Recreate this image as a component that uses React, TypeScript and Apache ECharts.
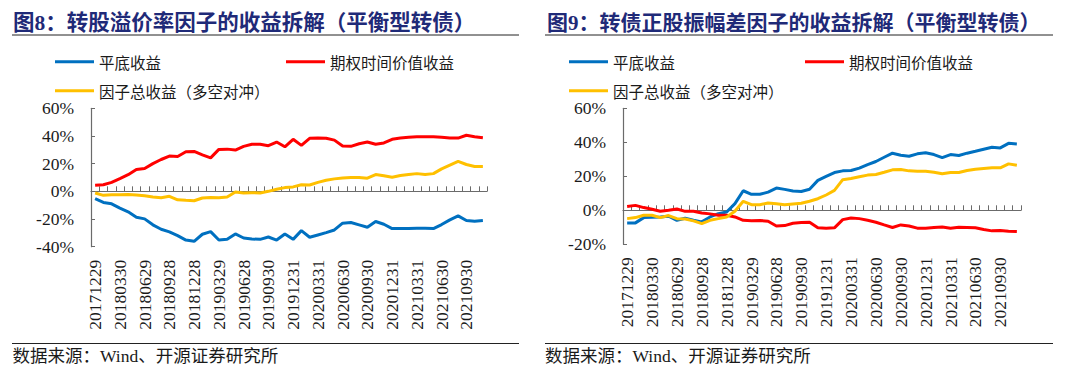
import React, { useEffect, useRef } from "react";
import * as echarts from "echarts";

const dates = [
  "20171229",
  "20180131", "20180228", "20180330", "20180427", "20180531", "20180629",
  "20180731", "20180831", "20180928", "20181031", "20181130", "20181228",
  "20190131", "20190228", "20190329", "20190430", "20190531", "20190628",
  "20190731", "20190830", "20190930", "20191031", "20191129", "20191231",
  "20200123", "20200228", "20200331", "20200430", "20200529", "20200630",
  "20200731", "20200831", "20200930", "20201030", "20201130", "20201231",
  "20210129", "20210226", "20210331", "20210430", "20210531", "20210630",
  "20210730", "20210831", "20210930", "20211029", "20211130",
];

const seriesNames = ["平底收益", "期权时间价值收益", "因子总收益（多空对冲）"];
const seriesColors = ["#0070C0", "#FF0000", "#FFC000"];

// Chart 1: 转股溢价率因子
const c1Floor = [
  -5.3, -8, -9, -12.1, -14.8, -18.7, -19.9, -24.2, -27.4, -29.3, -32, -35.2,
  -36.1, -31, -29.1, -35.2, -34.7, -30.8, -33.7, -34.4, -34.7, -33, -35.2, -30.8,
  -34.7, -28.4, -33.2, -31.5, -29.8, -27.9, -23, -22.5, -24.2, -25.9, -21.8, -23.8,
  -26.9, -26.9, -26.9, -26.7, -26.7, -26.9, -24, -20.6, -17.7, -21.1, -21.6, -21.1,
];
const c1Option = [
  4.4, 4.8, 6.5, 9.2, 12, 15.8, 16.5, 20, 23, 25.5, 25.2, 28.6,
  28.8, 26.4, 24.2, 30.3, 30.5, 29.8, 32.5, 34, 34, 33, 35.6, 32.2,
  37.6, 33.2, 38.3, 38.5, 38.3, 37, 32.7, 32.5, 34.4, 35.6, 34, 35,
  37.6, 38.5, 39, 39.5, 39.5, 39.5, 39, 38.5, 38.5, 40.5, 39.5, 38.8,
];
const c1Total = [
  -1.2, -2.9, -2.4, -2.4, -2.2, -2.7, -3.2, -4.1, -4.6, -3.6, -6.1, -6.5,
  -6.8, -4.8, -4.4, -4.6, -4.1, -0.5, -1.2, -1, -1.2, 0, 1.5, 2.7,
  3.2, 4.8, 4.6, 6.5, 8, 9, 9.7, 10, 10, 9.5, 12.1, 11.2,
  10.2, 11.4, 12.1, 12.8, 12.1, 12.8, 16.2, 18.9, 21.6, 19.4, 17.9, 17.9,
];

// Chart 2: 转债正股振幅差因子
const c2Floor = [
  -7.4, -7.4, -4.3, -4.1, -3.9, -3.5, -5.9, -4.7, -5.9, -6.8, -3.9, -2,
  -1, 3.9, 11.5, 9.4, 9.4, 10.7, 13.1, 12.3, 11.3, 11.1, 12.4, 17.6,
  19.9, 22.2, 23.2, 23.4, 24.8, 26.9, 28.7, 31.2, 33.6, 32.4, 31.8, 33.2,
  33.8, 32.8, 31, 32.8, 32.2, 33.6, 34.7, 35.9, 37.1, 36.7, 39.4, 39,
];
const c2Option = [
  2.3, 2.9, 1.6, 0.6, -0.6, 0, 0.8, -0.6, -0.6, -1.6, -2.1, -2.9,
  -2.9, -3.9, -5.9, -6.2, -6, -6.4, -9.2, -9, -7.6, -7.2, -7, -10.3,
  -10.5, -10.3, -5.5, -4.5, -4.9, -5.9, -7, -8.6, -10.1, -8.6, -9.2, -10.5,
  -10.5, -10.1, -9.8, -10.5, -10, -10.1, -10.3, -11.3, -12.1, -11.9, -12.3, -12.5,
];
const c2Total = [
  -4.9, -4.3, -2.9, -2.9, -4.3, -3.1, -4.9, -5.1, -6.2, -7.8, -5.9, -4.9,
  -3.9, -0.6, 5.3, 3.3, 3.3, 4.3, 3.9, 3.3, 3.7, 4.1, 5.3, 6.8,
  9, 11.7, 18, 18.7, 19.7, 20.7, 21.1, 22.4, 23.8, 24, 23.2, 23,
  23, 22.4, 21.5, 22.2, 22.2, 23.4, 24.2, 24.6, 25, 25, 27.3, 26.5,
];

const c1Title = "图8：转股溢价率因子的收益拆解（平衡型转债）";
const c2Title = "图9：转债正股振幅差因子的收益拆解（平衡型转债）";
const sourceText = "数据来源：Wind、开源证券研究所";

const c1YRange = [-40, 60];
const c2YRange = [-20, 60];
const yInterval = 20;

const SERIF = "'Liberation Serif', 'Times New Roman', serif";
const CJK = "'Liberation Serif', 'Noto Sans CJK SC', sans-serif";
const AXIS_COLOR = "#6b6b6b";
const TEXT_COLOR = "#1a1a1a";
const TITLE_COLOR = "#1F2A78";

export default function App() {
  const ref = useRef<HTMLDivElement>(null);

  useEffect(() => {
    if (!ref.current) return;
    const chart = echarts.init(ref.current, undefined, { renderer: "svg" });

    const grids = [
      { left: 91, top: 108.3, width: 396, height: 138.4, containLabel: false, outerBoundsMode: "none" },
      { left: 623, top: 108.3, width: 398, height: 136, containLabel: false, outerBoundsMode: "none" },
    ];

    const labelAxis = (gridIndex: number) => ({
      type: "category",
      gridIndex,
      data: dates,
      boundaryGap: true,
      position: "bottom",
      axisLine: { show: false, onZero: false },
      axisTick: { show: false },
      splitLine: { show: false },
      axisLabel: {
        interval: 2,
        rotate: 90,
        fontSize: 17.5,
        fontFamily: SERIF,
        color: TEXT_COLOR,
        margin: 13,
      },
    });
    const zeroAxis = (gridIndex: number) => ({
      type: "category",
      gridIndex,
      data: dates,
      boundaryGap: true,
      position: "bottom",
      axisLine: { show: true, onZero: true, lineStyle: { color: AXIS_COLOR, width: 1.2 } },
      axisTick: { show: true, inside: true, length: 5, interval: 0, lineStyle: { color: AXIS_COLOR, width: 1 } },
      axisLabel: { show: false },
      splitLine: { show: false },
    });
    const yAxis = (gridIndex: number, range: number[]) => ({
      type: "value",
      gridIndex,
      min: range[0],
      max: range[1],
      interval: yInterval,
      axisLine: { show: true, lineStyle: { color: AXIS_COLOR, width: 1.2 } },
      axisTick: { show: true, inside: true, length: 4, lineStyle: { color: AXIS_COLOR } },
      splitLine: { show: false },
      axisLabel: {
        formatter: "{value}%",
        fontSize: 17.5,
        fontFamily: SERIF,
        color: TEXT_COLOR,
        margin: 17,
      },
    });

    const mkSeries = (xi: number, yi: number, values: number[][]) =>
      values.map((v, k) => ({
        type: "line",
        name: seriesNames[k],
        xAxisIndex: xi,
        yAxisIndex: yi,
        data: v,
        symbol: "none",
        color: seriesColors[k],
        itemStyle: { color: seriesColors[k] },
        lineStyle: { color: seriesColors[k], width: 3 },
      }));

    const mkLegend = (name: string, left: number, top: number) => ({
      data: [name],
      left,
      top,
      orient: "horizontal",
      padding: 0,
      icon: "rect",
      itemWidth: 39,
      itemHeight: 3,
      selectedMode: false,
      textStyle: { fontSize: 15.5, fontFamily: "'Noto Sans CJK SC', sans-serif", color: TEXT_COLOR },
    });

    const legendY1 = 54;
    const legendY2 = 83;

    const mkText = (text: string, x: number, y: number, size: number, color: string, weight: string, family: string) => ({
      type: "text",
      x,
      y,
      style: { text, fontSize: size, fill: color, fontWeight: weight, fontFamily: family, textVerticalAlign: "middle", textAlign: "left" },
      silent: true,
    });
    const mkLine = (x1: number, x2: number, y: number) => ({
      type: "line",
      shape: { x1, y1: y, x2, y2: y },
      style: { stroke: "#222", lineWidth: 1 },
      silent: true,
    });

    chart.setOption({
      animation: false,
      backgroundColor: "#ffffff",
      grid: grids,
      xAxis: [labelAxis(0), zeroAxis(0), labelAxis(1), zeroAxis(1)],
      yAxis: [yAxis(0, c1YRange), yAxis(1, c2YRange)],
      legend: [
        mkLegend(seriesNames[0], 55, legendY1),
        mkLegend(seriesNames[1], 286, legendY1),
        mkLegend(seriesNames[2], 55, legendY2),
        mkLegend(seriesNames[0], 569, legendY1),
        mkLegend(seriesNames[1], 805, legendY1),
        mkLegend(seriesNames[2], 569, legendY2),
      ],
      series: [
        ...mkSeries(0, 0, [c1Floor, c1Option, c1Total]),
        ...mkSeries(2, 1, [c2Floor, c2Option, c2Total]),
      ],
      graphic: [
        mkText(c1Title, 13, 22.5, 21.5, TITLE_COLOR, "bold", CJK),
        mkText(c2Title, 547, 22.5, 21, TITLE_COLOR, "bold", CJK),
        mkLine(12, 519, 35),
        mkLine(545, 1053, 35),
        mkLine(12, 519, 343.5),
        mkLine(545, 1053, 343.5),
        mkText(sourceText, 12.5, 355.5, 17.5, TEXT_COLOR, "normal", CJK),
        mkText(sourceText, 545, 355.5, 17.5, TEXT_COLOR, "normal", CJK),
      ],
    });

    return () => chart.dispose();
  }, []);

  return (
    <div
      ref={ref}
      style={{ position: "fixed", left: 0, top: 0, width: 1080, height: 383, background: "#fff" }}
    />
  );
}
